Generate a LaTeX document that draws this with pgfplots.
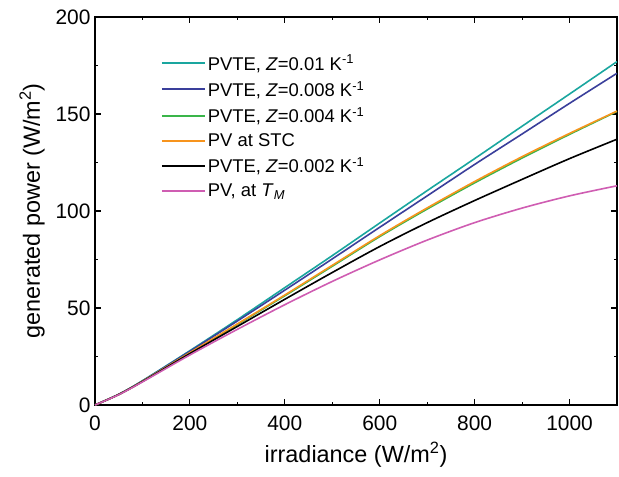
\documentclass[border=0pt]{standalone}
\usepackage{fontspec}
\setmainfont{Liberation Sans}
\usepackage{pgfplots}
\pgfplotsset{compat=1.18}
\definecolor{cTeal}{HTML}{1AA69F}
\definecolor{cBlue}{HTML}{3A3F9B}
\definecolor{cGreen}{HTML}{3AB54A}
\definecolor{cOrange}{HTML}{F7941D}
\definecolor{cMag}{HTML}{CF5DB2}
\begin{document}
\begin{tikzpicture}
\begin{axis}[
  scale only axis,
  width=522bp, height=388bp,
  xmin=0, xmax=1100, ymin=0, ymax=200,
  xtick={0,200,...,1000}, ytick={0,50,...,200},
  minor x tick num=1, minor y tick num=1,
  tick align=inside, tick pos=both,
  major tick length=6bp, minor tick length=3.5bp,
  axis line style={line width=1.2bp},
  every tick/.style={line width=1.1bp, black},
  /pgf/number format/assume math mode=true,
  /pgf/number format/1000 sep={},
  ticklabel style={font=\fontsize{21}{25}\selectfont},
  xticklabel style={yshift=-7bp},
  yticklabel style={xshift=-1bp},
  xlabel={irradiance (W/m\textsuperscript{2})},
  ylabel={generated power (W/m\textsuperscript{2})},
  label style={font=\fontsize{23.5}{28}\selectfont},
  xlabel style={yshift=-5bp},
  ylabel style={yshift=4bp},
  legend style={draw=none, fill=none, at={(rel axis cs:0.12,0.913)}, anchor=north west,
    font=\fontsize{18.5}{22}\selectfont, row sep=5.6bp},
  legend cell align=left,
  legend image code/.code={\draw[#1, line width=2bp] plot coordinates {(0bp,0bp) (21.5bp,0bp) (43bp,0bp)};},
  every axis plot/.append style={line width=1.6bp, smooth, tension=0.5},
]
\addplot[cTeal] coordinates {(0,0) (50,5.5) (100,12.5) (200,28) (300,44) (400,60.5) (500,77) (600,93.8) (700,110.5) (800,127) (900,143.7) (1000,160.3) (1100,177)};
\addlegendentry{PVTE, \textit{Z}=0.01 K\textsuperscript{-1}}
\addplot[cBlue] coordinates {(0,0) (50,5.5) (100,12.4) (200,27.7) (300,43.3) (400,59.2) (500,75.3) (600,91.6) (700,107.8) (800,124) (900,139.7) (1000,155.5) (1100,171)};
\addlegendentry{PVTE, \textit{Z}=0.008 K\textsuperscript{-1}}
\addplot[cGreen] coordinates {(0,0) (50,5.4) (100,12.2) (200,26.8) (300,41.5) (400,56.3) (500,71.5) (600,86.8) (700,101) (800,114.5) (900,127.3) (1000,139.5) (1100,151.3)};
\addlegendentry{PVTE, \textit{Z}=0.004 K\textsuperscript{-1}}
\addplot[cOrange] coordinates {(0,0) (50,5.4) (100,12.2) (200,27) (300,41.8) (400,56.7) (500,72) (600,87.3) (700,101.6) (800,115.2) (900,128) (1000,140) (1100,151.5)};
\addlegendentry{PV at STC}
\addplot[black] coordinates {(0,0) (50,5.4) (100,12.1) (200,26.5) (300,40.5) (400,54.5) (500,68.3) (600,81.7) (700,94) (800,105.4) (900,116.3) (1000,127) (1100,137)};
\addlegendentry{PVTE, \textit{Z}=0.002 K\textsuperscript{-1}}
\addplot[cMag] coordinates {(0,0) (50,5.3) (100,11.9) (200,25.8) (300,39) (400,51.7) (500,63.7) (600,74.8) (700,85) (800,94) (900,101.5) (1000,107.8) (1100,113)};
\addlegendentry{PV, at \textit{T}\textsubscript{\textit{M}}}
\end{axis}
\pgfresetboundingbox
\useasboundingbox (-95bp,-72bp) rectangle (524bp,405bp);
\end{tikzpicture}
\end{document}
